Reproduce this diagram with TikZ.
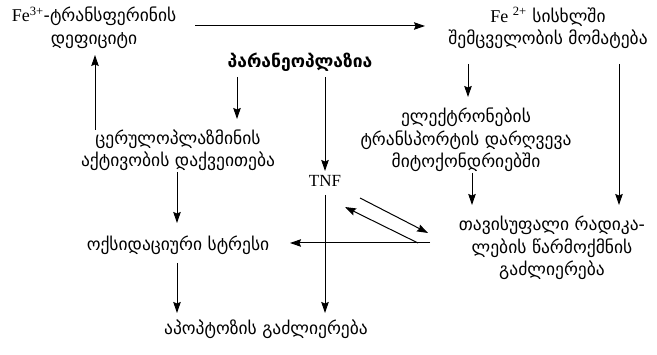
\documentclass[tikz,border=0pt]{standalone}
\usepackage{fontspec}
\setmainfont{Liberation Serif}
\newfontfamily\geofont{DejaVu Sans}
\usetikzlibrary{arrows.meta}
\tikzset{
  lbl/.style={font=\geofont\fontsize{17.5}{22.5}\selectfont, align=center, inner sep=1pt, text=black},
  lat/.style={font=\fontsize{17}{22}\selectfont, inner sep=1pt},
  arr/.style={-{Stealth[length=11pt,width=7.5pt,inset=1.5pt]}, line width=1pt, black},
}
\newcommand{\lt}[1]{{\rmfamily\fontsize{18}{22}\selectfont #1}}
\begin{document}
\begin{tikzpicture}[x=1pt,y=-1pt]
\useasboundingbox (0,0) rectangle (657,355);
\fill[white] (0,0) rectangle (657,355);

% text blocks
\node[lbl] (fe3) at (94,28) {\lt{Fe\textsuperscript{3+}}-ტრანსფერინის\\დეფიციტი};
\node[lbl] (fe2) at (548,28) {\lt{Fe \textsuperscript{2+}} სისხლში\\შემცველობის მომატება};
\node[lbl, font=\geofont\bfseries\fontsize{17.5}{22}\selectfont] (para) at (300,62) {პარანეოპლაზია};
\node[lbl] (cer) at (178,150) {ცერულოპლაზმინის\\აქტივობის დაქვეითება};
\node[lbl] (elek) at (466,140) {ელექტრონების\\ტრანსპორტის დარღვევა\\მიტოქონდრიებში};
\node[lat] (tnf) at (325,181) {TNF};
\node[lbl] (rad) at (552,248) {თავისუფალი რადიკა-\\ლების წარმოქმნის\\გაძლიერება};
\node[lbl] (oks) at (178,245) {ოქსიდაციური სტრესი};
\node[lbl] (apo) at (266,329) {აპოპტოზის გაძლიერება};

% connectors, anchored on the block centres
\draw[arr] ([shift={(101,-2)}]fe3.center) -- ([shift={(-123,-2)}]fe2.center);
\draw[arr] ([shift={(-83,-20)}]cer.center) -- ([shift={(1,27)}]fe3.center);
\draw[arr] ([shift={(-63,15)}]para.center) -- ([shift={(59,-31)}]cer.center);
\draw[arr] ([shift={(25,15)}]para.center) -- ([shift={(0,-10)}]tnf.center);
\draw[arr] ([shift={(-80,36)}]fe2.center) -- ([shift={(2,-43)}]elek.center);
\draw[arr] ([shift={(71,36)}]fe2.center) -- ([shift={(67,-43)}]rad.center);
\draw[arr] ([shift={(6,33)}]elek.center) -- ([shift={(-80,-43)}]rad.center);
\draw[arr] ([shift={(-1,22)}]cer.center) -- ([shift={(-1,-22)}]oks.center);
\draw[arr] ([shift={(-1,18)}]oks.center) -- ([shift={(-89,-16)}]apo.center);
\draw[arr] ([shift={(0,14)}]tnf.center) -- ([shift={(59,-16)}]apo.center);
\draw[arr] ([shift={(-122,-5)}]rad.center) -- ([shift={(112,-2)}]oks.center);
\draw[arr] ([shift={(35,17)}]tnf.center) -- ([shift={(-124,-15)}]rad.center);
\draw[arr] ([shift={(-134,-5)}]rad.center) -- ([shift={(20,26)}]tnf.center);
\end{tikzpicture}
\end{document}
